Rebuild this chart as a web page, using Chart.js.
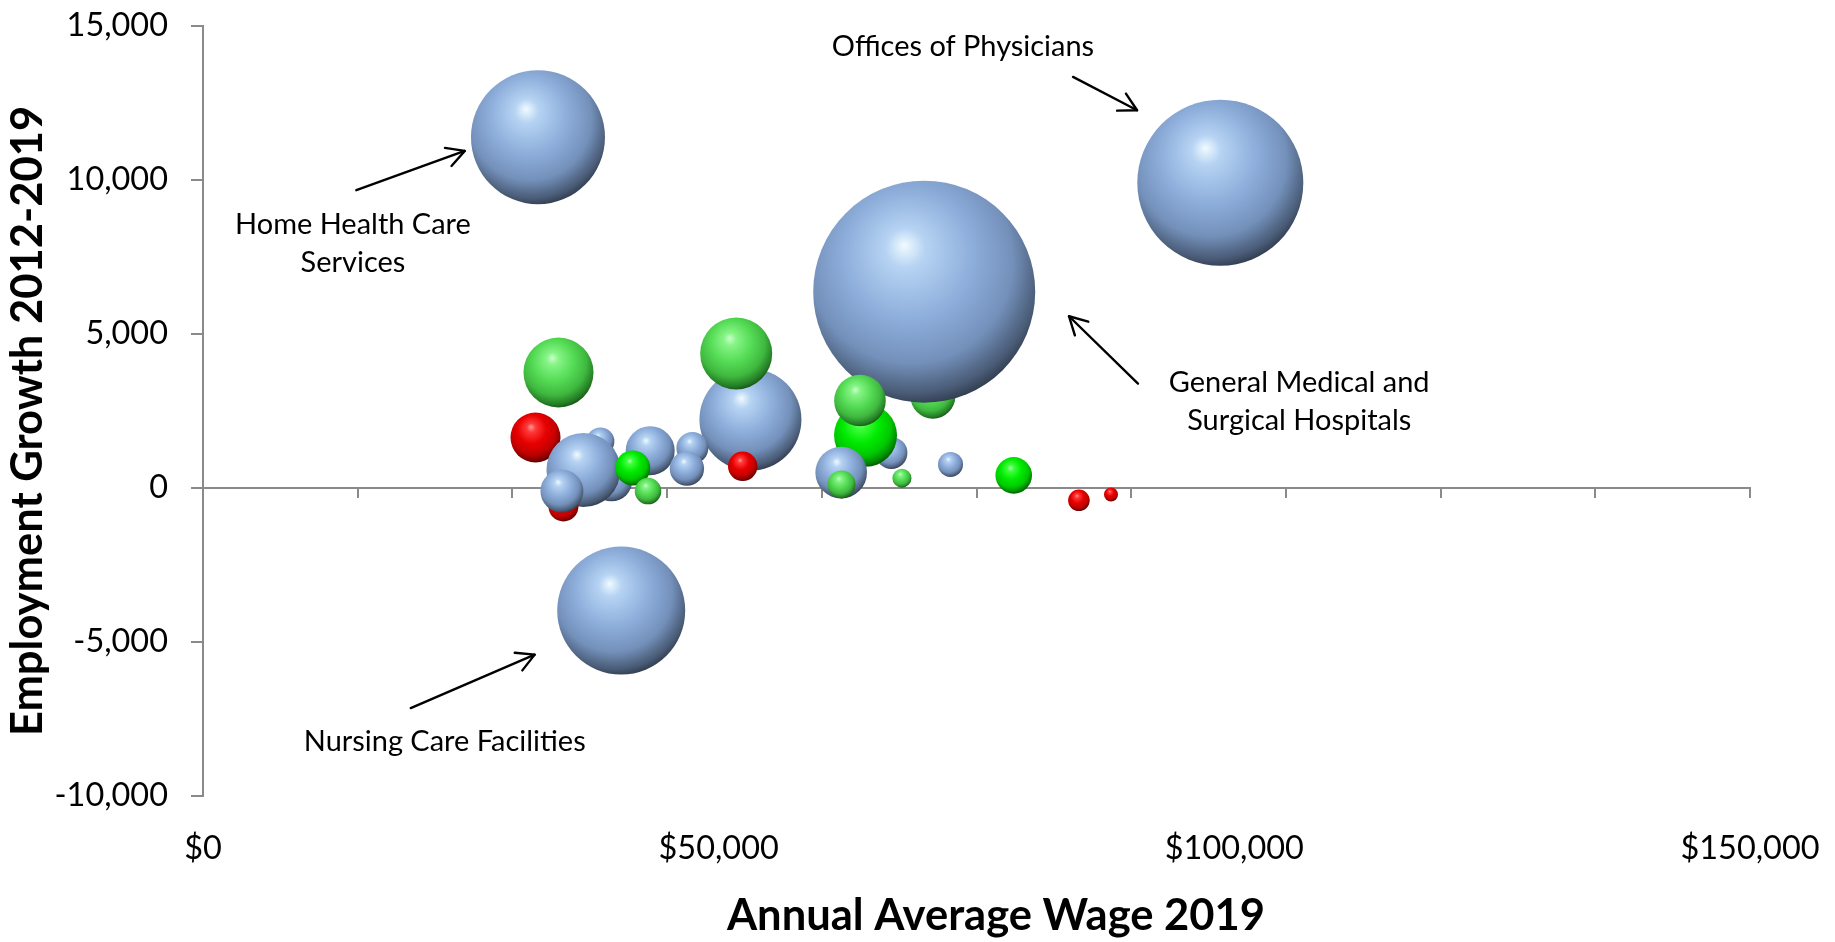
<!DOCTYPE html>
<html>
<head>
<meta charset="utf-8">
<script src="https://cdn.jsdelivr.net/npm/chart.js@4.4.1/dist/chart.umd.min.js"></script>
<style>
html,body{margin:0;padding:0;background:#ffffff;}
#wrap{width:1835px;height:942px;position:relative;}
</style>
</head>
<body>
<div id="wrap"><canvas id="c" width="1835" height="942"></canvas></div>
<script>
// ---------- DATA (draw order: first = back) ----------
const groups = ['R','B','B','B','R','B','B','V','G','B','B','B','G','R','G','B','B','B','G','B','B','V','G','B','G','G','B','V','R','R'];
const wages = [32240,38530,39600,36890,34950,34800,43360,41670,43150,53080,47450,46920,51700,52330,34470,32480,40550,98640,70770,69930,66750,64240,63700,61880,61910,67770,72480,78610,84930,88040];
const growth = [1640,1510,250,585,-600,-100,1210,650,-100,2220,1300,630,4370,705,3750,11390,-3980,9910,2980,6375,1140,1710,2840,500,115,320,765,410,-400,-210];
const employment = [6090,1910,4295,13330,2190,4500,5845,2985,1720,25330,2490,2880,12620,2105,11930,43720,39890,67090,4930,120000,2490,9665,6485,6485,1910,880,1520,3260,1135,475];

const xTickValues = [0, 50000, 100000, 150000];
const yTickValues = [-10000, -5000, 0, 5000, 10000, 15000];
const xAxisTitle = 'Annual Average Wage 2019';
const yAxisTitle = 'Employment Growth 2012-2019';

const noteLines = [['Offices of Physicians'], ['Home Health Care','Services'], ['General Medical and','Surgical Hospitals'], ['Nursing Care Facilities']];
// ---------- LAYOUT / STYLE ----------
const notePos = [ {x:73690, y:[14019]}, {x:14540, y:[8261,7014]}, {x:106290, y:[3118,1874]}, {x:23440, y:[-8550]} ];
const noteTargetW = [[263],[234.7,103.3],[266,225],[280]];
const arrows = [
  {from:[84360,13347], to:[90570,12265]},
  {from:[14870,9668], to:[25380,10944]},
  {from:[90660,3390], to:[83970,5576]},
  {from:[20140,-7144], to:[32160,-5410]}
];
const R_MAX = 111, EMP_MAX = 120000;
const FONT = 'Lato, "Open Sans", "DejaVu Sans", sans-serif';
const AXIS_GRAY = '#8a8a8a';
const palettes = {
  B: ['#f0fbff','#b6d3f3','#8eaedb','#7390ba','#4a5c77','#2a3444'],
  G: ['#c9ffc9','#86f486','#55dc55','#3fb83f','#247c24','#144814'],
  V: ['#b4ffb4','#3dff3d','#00ea00','#00c800','#008400','#004800'],
  R: ['#ff9c9c','#ff3a3a','#e80000','#c40000','#820000','#480000']
};
function radiusFor(e){ return R_MAX*Math.sqrt(e/EMP_MAX); }

function sphereFill(c, cx, cy, r, p){
  const g = c.createRadialGradient(cx-0.18*r, cy-0.42*r, 0, cx-0.1*r, cy-0.22*r, 1.28*r);
  g.addColorStop(0, p[0]); g.addColorStop(0.14, p[1]); g.addColorStop(0.45, p[2]);
  g.addColorStop(0.72, p[3]); g.addColorStop(0.9, p[4]); g.addColorStop(1, p[5]);
  return g;
}

const measureCtx = document.createElement('canvas').getContext('2d');
function fitSize(lines, targets, weight, base){
  let s = 0, n = 0;
  lines.forEach((t,i)=>{ measureCtx.font = weight+' '+base+'px '+FONT; const w = measureCtx.measureText(t).width; s += targets[i]/w; n++; });
  return base*s/n;
}
const allNoteLines = [].concat(...noteLines), allNoteTargets = [].concat(...noteTargetW);
const noteSize = fitSize(allNoteLines, allNoteTargets, 'normal', 30);
const titleSize = fitSize([xAxisTitle, yAxisTitle], [541, 627], 'bold', 40);
const tickSize = fitSize(['15,000','-10,000'], [101, 114], 'normal', 32);

function zeroPad(s){ s.paddingLeft = 0; s.paddingRight = 0; s.paddingTop = 0; s.paddingBottom = 0; }

const overlayPlugin = {
  id: 'overlay',
  afterDatasetsDraw(chart){
    const c = chart.ctx, xs = chart.scales.x, ys = chart.scales.y;
    c.save();
    c.fillStyle = '#000'; c.textAlign = 'center'; c.textBaseline = 'alphabetic';
    c.font = 'normal '+noteSize+'px '+FONT;
    noteLines.forEach((lines,i)=>{
      lines.forEach((t,j)=>{ c.fillText(t, xs.getPixelForValue(notePos[i].x), ys.getPixelForValue(notePos[i].y[j])); });
    });
    c.strokeStyle = '#000'; c.lineWidth = 2.4; c.lineCap = 'round'; c.lineJoin = 'round';
    arrows.forEach(a=>{
      const x1 = xs.getPixelForValue(a.from[0]), y1 = ys.getPixelForValue(a.from[1]);
      const x2 = xs.getPixelForValue(a.to[0]), y2 = ys.getPixelForValue(a.to[1]);
      const ang = Math.atan2(y1-y2, x1-x2), L = 20, h = 0.5;
      c.beginPath(); c.moveTo(x1,y1); c.lineTo(x2,y2); c.stroke();
      c.beginPath();
      c.moveTo(x2+L*Math.cos(ang+h), y2+L*Math.sin(ang+h));
      c.lineTo(x2,y2);
      c.lineTo(x2+L*Math.cos(ang-h), y2+L*Math.sin(ang-h));
      c.stroke();
    });
    // axis titles
    c.font = 'bold '+titleSize+'px '+FONT;
    c.fillText(xAxisTitle, 996, 930);
    c.translate(41.7, 421); c.rotate(-Math.PI/2);
    c.fillText(yAxisTitle, 0, 0);
    c.restore();
  }
};

const points = wages.map((w,i)=>({x:w, y:growth[i], r:radiusFor(employment[i])}));

new Chart(document.getElementById('c'), {
  type: 'bubble',
  data: { datasets: [{
    data: points,
    clip: false,
    borderWidth: 0, hoverBorderWidth: 0, hoverRadius: 0,
    backgroundColor(ctx){
      const i = ctx.dataIndex, pal = palettes[groups[i]] || palettes.B;
      const ch = ctx.chart;
      if (ctx.type !== 'data' || !ch.scales || !ch.scales.x || !ch.chartArea) return pal[2];
      const cx = ch.scales.x.getPixelForValue(wages[i]), cy = ch.scales.y.getPixelForValue(growth[i]);
      return sphereFill(ch.ctx, cx, cy, radiusFor(employment[i]), pal);
    }
  }]},
  options: {
    responsive: false, animation: false, events: [],
    layout: { autoPadding: false, padding: { left: 0, right: 85, top: 26, bottom: 0 } },
    plugins: { legend: {display:false}, tooltip: {enabled:false} },
    scales: {
      x: {
        type: 'linear', position: 'bottom', min: 0, max: 150000,
        afterBuildTicks(s){ s.ticks = xTickValues.map(v=>({value:v})); },
        ticks: { autoSkip:false, maxRotation:0, color:'#000', padding: 33,
          font: { family: FONT, size: tickSize },
          callback: v => '$' + Number(v).toLocaleString('en-US') },
        grid: { display:false, drawTicks:false },
        border: { display:false },
        afterFit(s){ s.height = 146; zeroPad(s); }
      },
      xZero: {
        type: 'linear', axis: 'x', position: { y: 0 }, min: 0, max: 150000,
        ticks: { display:false, stepSize: 15000 },
        grid: { display:true, drawOnChartArea:false, drawTicks:true, tickLength: 9, color: AXIS_GRAY, lineWidth: 2 },
        border: { display:true, color: AXIS_GRAY, width: 2 },
        afterFit(s){ zeroPad(s); }
      },
      y: {
        type: 'linear', position: 'left', min: -10000, max: 15000,
        afterBuildTicks(s){ s.ticks = yTickValues.map(v=>({value:v})); },
        ticks: { color:'#000', padding: 23, font: { family: FONT, size: tickSize },
          callback: v => Number(v).toLocaleString('en-US') },
        grid: { display:true, drawOnChartArea:false, drawTicks:true, tickLength: 12, color: AXIS_GRAY, lineWidth: 2 },
        border: { display:true, color: AXIS_GRAY, width: 2 },
        afterFit(s){ s.width = 203; zeroPad(s); }
      }
    }
  },
  plugins: [overlayPlugin]
});
</script>
</body>
</html>
